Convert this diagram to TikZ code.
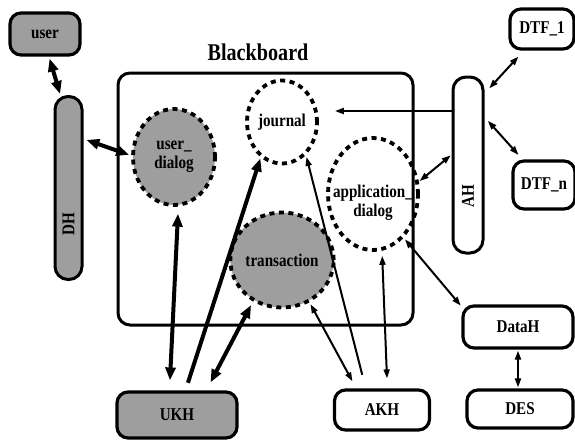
\documentclass[tikz,border=0pt]{standalone}
\usepackage{fontspec}
\setmainfont[FakeStretch=0.84]{Liberation Serif}
\usetikzlibrary{arrows.meta,shapes.geometric,calc}
\begin{document}
\begin{tikzpicture}[x=1pt,y=-1pt,
  lbl/.style={font=\bfseries\fontsize{18}{19}\selectfont, align=center},
  box/.style={draw, line width=3.2pt, rounded corners=11pt, lbl, inner sep=0pt},
  pill/.style={draw, line width=3pt, rounded corners=13pt, inner sep=0pt},
  gfill/.style={fill=black!38},
  blob/.style={ellipse, draw, line width=3.8pt, dash pattern=on 5pt off 4.5pt, lbl, inner sep=0pt},
  thickarr/.style={line width=4pt, >={Triangle[length=13pt,width=10pt]}},
  thinarr/.style={line width=2pt, >={Triangle[length=9pt,width=6pt]}},
  vtext/.style={lbl, rotate=90}
]
\useasboundingbox (0,0) rectangle (575,440);

% Blackboard
\draw[line width=3pt, rounded corners=12pt] (118,73) rectangle (413,325);
\node[font=\bfseries\fontsize{24}{26}\selectfont] (bbl) at (258,52) {Blackboard};

% outer nodes
\node[box, gfill, minimum width=70pt, minimum height=42pt] (user) at (45,34) {user};
\node[pill, gfill, minimum width=27pt, minimum height=183pt] (DH) at (68.5,188) {};
\node[vtext] (DHl) at (68.5,224) {DH};
\node[pill, minimum width=30pt, minimum height=176pt] (AH) at (468,165) {};
\node[vtext] (AHl) at (468,196) {AH};
\node[box, minimum width=64pt, minimum height=40pt] (DTF1) at (542,29) {DTF\_1};
\node[box, minimum width=62pt, minimum height=48pt] (DTFn) at (544,185) {DTF\_n};
\node[box, minimum width=110pt, minimum height=42pt] (DataH) at (518,327) {DataH};
\node[box, minimum width=106pt, minimum height=38pt] (DES) at (520,409) {DES};
\node[box, gfill, minimum width=120pt, minimum height=46pt] (UKH) at (177,415) {UKH};
\node[box, minimum width=95pt, minimum height=40pt] (AKH) at (382,410) {AKH};

% blackboard contents
\node[blob, gfill, minimum width=82pt, minimum height=96pt] (udialog) at (174,157) {user\_\\dialog};
\node[blob, minimum width=70pt, minimum height=83pt] (journal) at (282,122) {journal};
\node[blob, minimum width=90pt, minimum height=112pt] (adialog) at (373,194) {};
\node[lbl] (adl) at (373,203) {application\_\\dialog};
\node[blob, gfill, minimum width=75pt, minimum height=95pt] (trans) at (282,260) {transaction};

% thick connectors
\draw[thickarr, <->, shorten <=2pt, shorten >=1pt] (user.-80) -- (DH.95);
\draw[thickarr, <->, shorten <=3pt, shorten >=2pt] (DH.73) -- (udialog.178);
\draw[thickarr, <->, shorten <=7pt, shorten >=10pt] (udialog.-85) -- (UKH.107);
\draw[thickarr, ->, shorten <=8pt, shorten >=1pt] (UKH.71) -- (journal.-121);
\draw[thickarr, <->, shorten <=9pt, shorten >=4pt] (UKH.40) -- (trans.-125);

% thin connectors
\draw[thinarr, <->, shorten <=2pt, shorten >=8pt] (trans.-57) -- (AKH.140);
\draw[thinarr, ->, shorten <=14pt, shorten >=2pt] (AKH.127) -- (journal.-54);
\draw[thinarr, <->, shorten <=5pt, shorten >=10pt] (adialog.-81) -- (AKH.76);
\draw[thinarr, <->, shorten <=2pt, shorten >=1pt] (adialog.-55) -- (DataH.160);
\draw[thinarr, <->, shorten <=1pt, shorten >=1pt] (DataH.south) -- (DataH.south |- DES.north);
\draw[thinarr, ->, shorten >=16pt] (AH.107) -- (AH.107 -| journal.east);
\draw[thinarr, <->, shorten <=1pt, shorten >=1pt] (adialog.15) -- (AH.148);
\draw[thinarr, <->, shorten <=7pt, shorten >=8pt] (AH.77) -- (DTF1.-130);
\draw[thinarr, <->, shorten <=5pt, shorten >=6pt] (AH.71) -- (DTFn.130);
\end{tikzpicture}
\end{document}
